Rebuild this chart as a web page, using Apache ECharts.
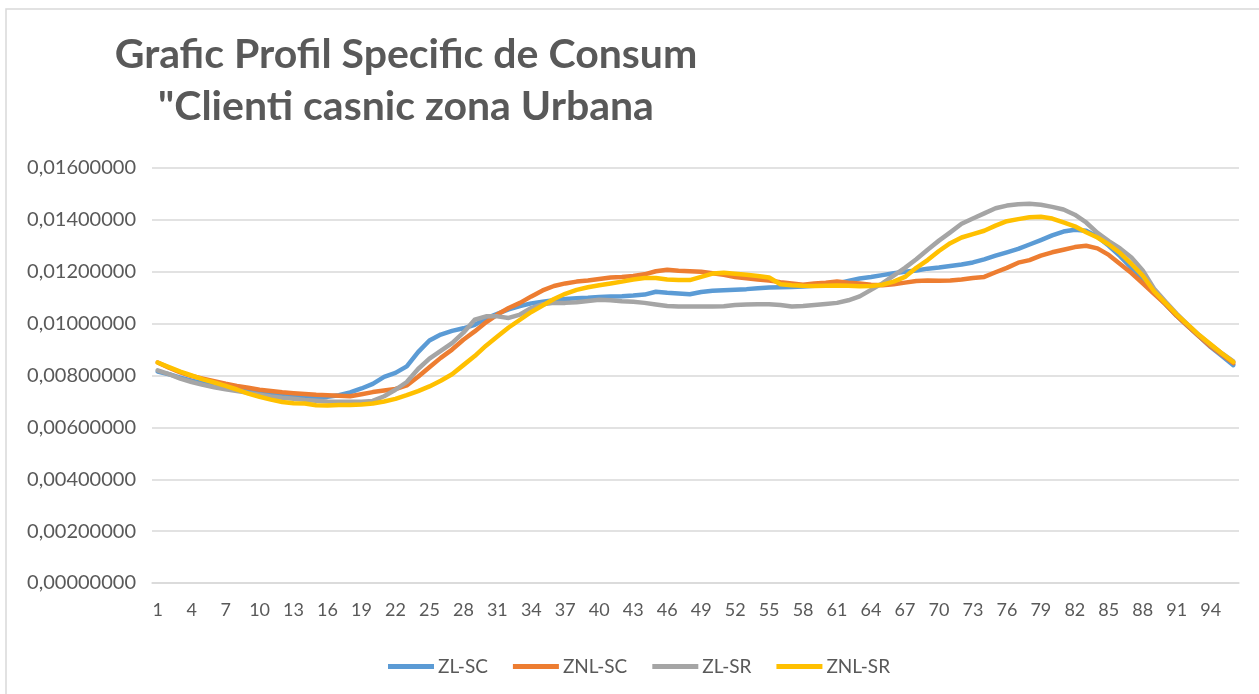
<!DOCTYPE html>
<html>
<head>
<meta charset="utf-8">
<script src="https://cdn.jsdelivr.net/npm/echarts@6/dist/echarts.min.js"></script>
<style>
html,body{margin:0;padding:0;background:#fff;}
#chart{width:1259px;height:694px;}
</style>
</head>
<body>
<div id="chart"></div>
<script>
var titleLines = ['Grafic Profil Specific de Consum', '"Clienti casnic zona Urbana'];
var seriesNames = ['ZL-SC', 'ZNL-SC', 'ZL-SR', 'ZNL-SR'];
var categories = [];
for (var k = 1; k <= 96; k++) categories.push(String(k));

var zlSC = [
0.00815,0.00805,0.00792,0.00780,0.00770,0.00762,0.00753,0.00746,0.00738,0.00732,
0.00726,0.00721,0.00718,0.00716,0.00716,0.00718,0.00724,0.00735,0.00750,0.00768,
0.00795,0.00810,0.00835,0.00890,0.00935,0.00958,0.00972,0.00982,0.00995,0.01020,
0.01038,0.01055,0.01068,0.01078,0.01084,0.01090,0.01095,0.01098,0.01100,0.01103,
0.01105,0.01106,0.01108,0.01112,0.01123,0.01119,0.01116,0.01113,0.01122,0.01127,
0.01129,0.01131,0.01133,0.01136,0.01139,0.01140,0.01141,0.01143,0.01146,0.01150,
0.01155,0.01165,0.01174,0.01180,0.01187,0.01194,0.01200,0.01205,0.01212,0.01216,
0.01222,0.01228,0.01236,0.01248,0.01262,0.01275,0.01288,0.01305,0.01322,0.01340,
0.01355,0.01362,0.01358,0.01335,0.01300,0.01260,0.01215,0.01170,0.01120,0.01075,
0.01030,0.00990,0.00950,0.00910,0.00875,0.00840];

var znlSC = [
0.00850,0.00830,0.00812,0.00798,0.00788,0.00778,0.00768,0.00760,0.00753,0.00745,
0.00740,0.00735,0.00732,0.00729,0.00726,0.00724,0.00722,0.00720,0.00728,0.00736,
0.00742,0.00748,0.00762,0.00795,0.00832,0.00868,0.00900,0.00938,0.00970,0.01005,
0.01035,0.01060,0.01080,0.01105,0.01128,0.01145,0.01155,0.01162,0.01166,0.01172,
0.01178,0.01180,0.01184,0.01190,0.01202,0.01208,0.01204,0.01202,0.01200,0.01194,
0.01188,0.01180,0.01175,0.01170,0.01166,0.01160,0.01155,0.01150,0.01155,0.01158,
0.01162,0.01158,0.01155,0.01150,0.01148,0.01152,0.01158,0.01164,0.01166,0.01165,
0.01166,0.01170,0.01176,0.01180,0.01198,0.01215,0.01235,0.01245,0.01262,0.01275,
0.01285,0.01295,0.01300,0.01290,0.01265,0.01230,0.01195,0.01155,0.01115,0.01075,
0.01030,0.00990,0.00950,0.00912,0.00880,0.00848];

var zlSR = [
0.00820,0.00805,0.00788,0.00775,0.00764,0.00755,0.00747,0.00740,0.00733,0.00726,
0.00719,0.00714,0.00710,0.00706,0.00703,0.00700,0.00699,0.00699,0.00699,0.00702,
0.00720,0.00745,0.00775,0.00825,0.00865,0.00895,0.00925,0.00965,0.01015,0.01028,
0.01028,0.01022,0.01035,0.01060,0.01075,0.01080,0.01080,0.01082,0.01087,0.01092,
0.01090,0.01086,0.01084,0.01080,0.01074,0.01068,0.01066,0.01066,0.01066,0.01066,
0.01067,0.01072,0.01074,0.01075,0.01075,0.01072,0.01066,0.01068,0.01072,0.01076,
0.01080,0.01090,0.01105,0.01130,0.01155,0.01185,0.01215,0.01248,0.01285,0.01320,
0.01352,0.01385,0.01405,0.01425,0.01445,0.01455,0.01460,0.01462,0.01458,0.01450,
0.01440,0.01420,0.01390,0.01350,0.01318,0.01290,0.01255,0.01205,0.01135,0.01085,
0.01038,0.00995,0.00955,0.00918,0.00885,0.00855];

var znlSR = [
0.00850,0.00832,0.00815,0.00800,0.00785,0.00773,0.00760,0.00746,0.00730,0.00718,
0.00707,0.00698,0.00693,0.00692,0.00685,0.00684,0.00686,0.00686,0.00688,0.00692,
0.00700,0.00710,0.00724,0.00740,0.00758,0.00780,0.00805,0.00840,0.00875,0.00915,
0.00950,0.00985,0.01015,0.01045,0.01070,0.01095,0.01115,0.01130,0.01140,0.01148,
0.01155,0.01162,0.01170,0.01176,0.01176,0.01170,0.01168,0.01168,0.01180,0.01193,
0.01196,0.01192,0.01188,0.01184,0.01178,0.01152,0.01148,0.01146,0.01145,0.01146,
0.01147,0.01146,0.01144,0.01145,0.01150,0.01162,0.01180,0.01215,0.01245,0.01280,
0.01310,0.01332,0.01345,0.01358,0.01378,0.01395,0.01403,0.01410,0.01412,0.01405,
0.01390,0.01375,0.01352,0.01332,0.01305,0.01272,0.01230,0.01185,0.01125,0.01080,
0.01035,0.00995,0.00955,0.00920,0.00885,0.00852];

var seriesColors = ['#5B9BD5', '#ED7D31', '#A5A5A5', '#FFC000'];
var allData = [zlSC, znlSC, zlSR, znlSR];

var chart = echarts.init(document.getElementById('chart'), null, {renderer: 'canvas'});
var FONT = 'Lato, "Open Sans", sans-serif';

var series = seriesNames.map(function (name, i) {
  return {
    name: name,
    type: 'line',
    data: allData[i],
    showSymbol: false,
    symbol: 'none',
    smooth: false,
    lineStyle: {width: 4.5, color: seriesColors[i], cap: 'round', join: 'round'},
    itemStyle: {color: seriesColors[i]},
    emphasis: {disabled: true}
  };
});

chart.setOption({
  animation: false,
  backgroundColor: '#ffffff',
  color: seriesColors,
  title: {
    text: titleLines.join('\n'),
    left: 401,
    top: 24,
    textAlign: 'center',
    textStyle: {
      fontFamily: FONT,
      fontWeight: 'bold',
      fontSize: 41,
      lineHeight: 52,
      color: '#595959'
    }
  },
  graphic: [{
    type: 'rect',
    shape: {x: 6, y: 9, width: 1300, height: 700},
    style: {fill: 'none', stroke: '#D9D9D9', lineWidth: 1.5},
    silent: true,
    z: -1
  }],
  legend: {
    data: seriesNames,
    left: 383,
    top: 652,
    icon: 'rect',
    itemWidth: 46,
    itemHeight: 5,
    itemGap: 25,
    textStyle: {fontFamily: FONT, fontSize: 19, color: '#595959', padding: [0, 0, 0, -1]}
  },
  grid: {left: 152, right: 20, top: 168, bottom: 111, containLabel: false},
  xAxis: {
    type: 'category',
    data: categories,
    boundaryGap: true,
    axisLine: {show: true, lineStyle: {color: '#D9D9D9', width: 1.5}},
    axisTick: {show: false},
    axisLabel: {
      interval: 2,
      margin: 18,
      fontFamily: FONT,
      fontSize: 18,
      color: '#595959'
    },
    splitLine: {show: false}
  },
  yAxis: {
    type: 'value',
    min: 0,
    max: 0.016,
    interval: 0.002,
    axisLine: {show: false},
    axisTick: {show: false},
    axisLabel: {
      margin: 16,
      fontFamily: FONT,
      fontSize: 20,
      color: '#595959',
      formatter: function (v) { return v.toFixed(8).replace('.', ','); }
    },
    splitLine: {show: true, lineStyle: {color: '#D9D9D9', width: 1.5}}
  },
  series: series
});
</script>
</body>
</html>
